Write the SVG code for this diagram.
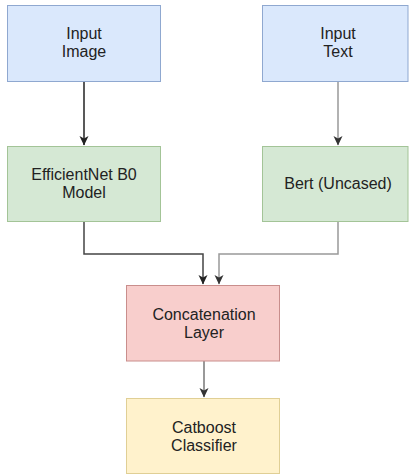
<svg xmlns="http://www.w3.org/2000/svg" width="411" height="474" viewBox="0 0 411 474">
  <style>
    .lbl { font-family: "Liberation Sans", Arial, sans-serif; font-size: 16px; fill: #222; text-anchor: middle; }
    .blue { fill: #dae8fc; stroke: #8fa8d0; stroke-width: 1; }
    .green { fill: #d5e8d4; stroke: #a3c497; stroke-width: 1; }
    .red { fill: #f8cecc; stroke: #c98e8c; stroke-width: 1; }
    .yellow { fill: #fff2cc; stroke: #e0cf95; stroke-width: 1; }
    .edge { fill: none; stroke-width: 1.5; }
  </style>
  <defs>
    <marker id="arrDark" markerUnits="userSpaceOnUse" markerWidth="10" markerHeight="10" viewBox="0 0 10 10" refX="9" refY="5" orient="auto">
      <path d="M0,0.5 L9.5,5 L0,9.5 L2.5,5 Z" fill="#222"/>
    </marker>
    <marker id="arrGrey" markerUnits="userSpaceOnUse" markerWidth="10" markerHeight="10" viewBox="0 0 10 10" refX="9" refY="5" orient="auto">
      <path d="M0,0.5 L9.5,5 L0,9.5 L2.5,5 Z" fill="#333"/>
    </marker>
  </defs>

  <g id="connectors">
    <path class="edge" d="M84,82 L84,145" stroke="#222" marker-end="url(#arrDark)"/>
    <path class="edge" d="M338,82 L338,145" stroke="#999" marker-end="url(#arrGrey)"/>
    <path class="edge" d="M84,222 L84,254 L203,254 L203,284" stroke="#444" marker-end="url(#arrDark)"/>
    <path class="edge" d="M338,222 L338,254 L219,254 L219,284" stroke="#999" marker-end="url(#arrGrey)"/>
    <path class="edge" d="M204,361 L204,397" stroke="#777" marker-end="url(#arrGrey)"/>
  </g>

  <g id="input-image">
    <rect class="blue" x="7.5" y="5.5" width="153" height="76"/>
    <text class="lbl" x="84" y="39">Input</text>
    <text class="lbl" x="84" y="57">Image</text>
  </g>

  <g id="input-text">
    <rect class="blue" x="262.5" y="5.5" width="145.5" height="76"/>
    <text class="lbl" x="338" y="39">Input</text>
    <text class="lbl" x="338" y="57">Text</text>
  </g>

  <g id="efficientnet">
    <rect class="green" x="7.5" y="146.5" width="153" height="75"/>
    <text class="lbl" x="84" y="180">EfficientNet B0</text>
    <text class="lbl" x="84" y="198">Model</text>
  </g>

  <g id="bert">
    <rect class="green" x="262.5" y="146.5" width="145.5" height="75"/>
    <text class="lbl" x="338" y="189">Bert (Uncased)</text>
  </g>

  <g id="concat">
    <rect class="red" x="126.5" y="285.5" width="153" height="75.5"/>
    <text class="lbl" x="204" y="320">Concatenation</text>
    <text class="lbl" x="204" y="338">Layer</text>
  </g>

  <g id="catboost">
    <rect class="yellow" x="126.5" y="398.5" width="153" height="75"/>
    <text class="lbl" x="204" y="433">Catboost</text>
    <text class="lbl" x="204" y="451">Classifier</text>
  </g>
</svg>
